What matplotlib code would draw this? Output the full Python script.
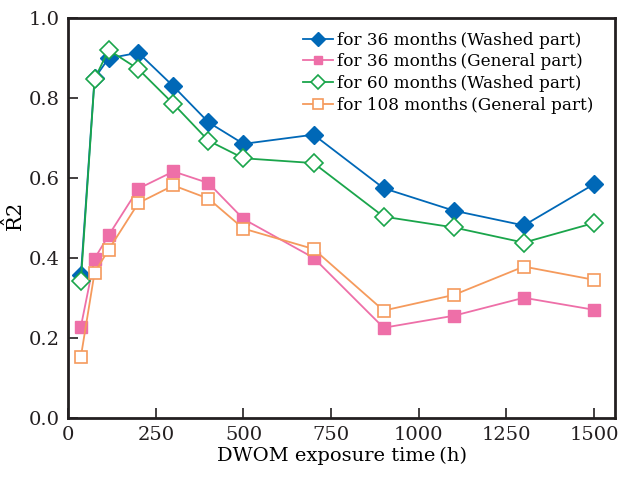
import numpy as np
import matplotlib.pyplot as plt

plt.rcParams['font.family'] = ['DejaVu Serif', 'Noto Sans CJK SC']
plt.rcParams['mathtext.fontset'] = 'dejavuserif'

# 暴露时间 (h)
hours = [36, 75, 115, 200, 300, 400, 500, 700, 900, 1100, 1300, 1500]

wash_36 = [0.357, 0.849, 0.899, 0.913, 0.829, 0.739, 0.685, 0.708, 0.574, 0.518, 0.481, 0.584]
gen_36 = [0.228, 0.398, 0.456, 0.573, 0.616, 0.587, 0.497, 0.400, 0.225, 0.255, 0.300, 0.270]
wash_60 = [0.343, 0.847, 0.920, 0.872, 0.785, 0.693, 0.649, 0.637, 0.503, 0.476, 0.438, 0.487]
gen_108 = [0.153, 0.363, 0.420, 0.537, 0.581, 0.548, 0.473, 0.422, 0.268, 0.307, 0.378, 0.345]

labels = ['for 36 months\u2009(Washed part)',
          'for 36 months\u2009(General part)',
          'for 60 months\u2009(Washed part)',
          'for 108 months\u2009(General part)']

fig = plt.figure(figsize=(6.18, 4.79), dpi=100)
ax = fig.add_axes([0.1105, 0.128, 0.8845, 0.8345])

ax.plot(hours, wash_36, color='#0068b7', lw=1.3, marker='D', ms=9,
        mfc='#0068b7', mec='#0068b7', label=labels[0], zorder=3)
ax.plot(hours, gen_36, color='#ee6fa8', lw=1.3, marker='s', ms=8,
        mfc='#ee6fa8', mec='#ee6fa8', label=labels[1], zorder=3)
ax.plot(hours, wash_60, color='#1aa54b', lw=1.3, marker='D', ms=9,
        mfc='white', mec='#1aa54b', mew=1.2, label=labels[2], zorder=4)
ax.plot(hours, gen_108, color='#f59a5c', lw=1.3, marker='s', ms=9,
        mfc='white', mec='#f59a5c', mew=1.2, label=labels[3], zorder=4)

ax.set_xlim(0, 1560)
ax.set_ylim(0, 1.0)
ax.set_xticks(np.arange(0, 1501, 250))
ax.set_yticks(np.arange(0, 1.01, 0.2))
ax.set_yticklabels(['%.1f' % v for v in np.arange(0, 1.01, 0.2)])

for s in ax.spines.values():
    s.set_linewidth(2)
    s.set_color('#231f20')
ax.tick_params(direction='in', length=7, width=1.2, labelsize=14,
               colors='#231f20', pad=6)

ax.set_xlabel('DWOM exposure time\u2009(h)', fontsize=14, labelpad=2)
ax.set_ylabel(r'$\hat{\mathrm{R}}$2', fontsize=15)
ax.yaxis.set_label_coords(-0.075, 0.5)

ax.legend(loc='upper right', frameon=False, fontsize=12.2, handlelength=1.8,
          handletextpad=0.2, labelspacing=0.28, borderaxespad=0.4,
          markerscale=0.8, bbox_to_anchor=(0.985, 1.0))

fig.savefig('out.png', dpi=100)
